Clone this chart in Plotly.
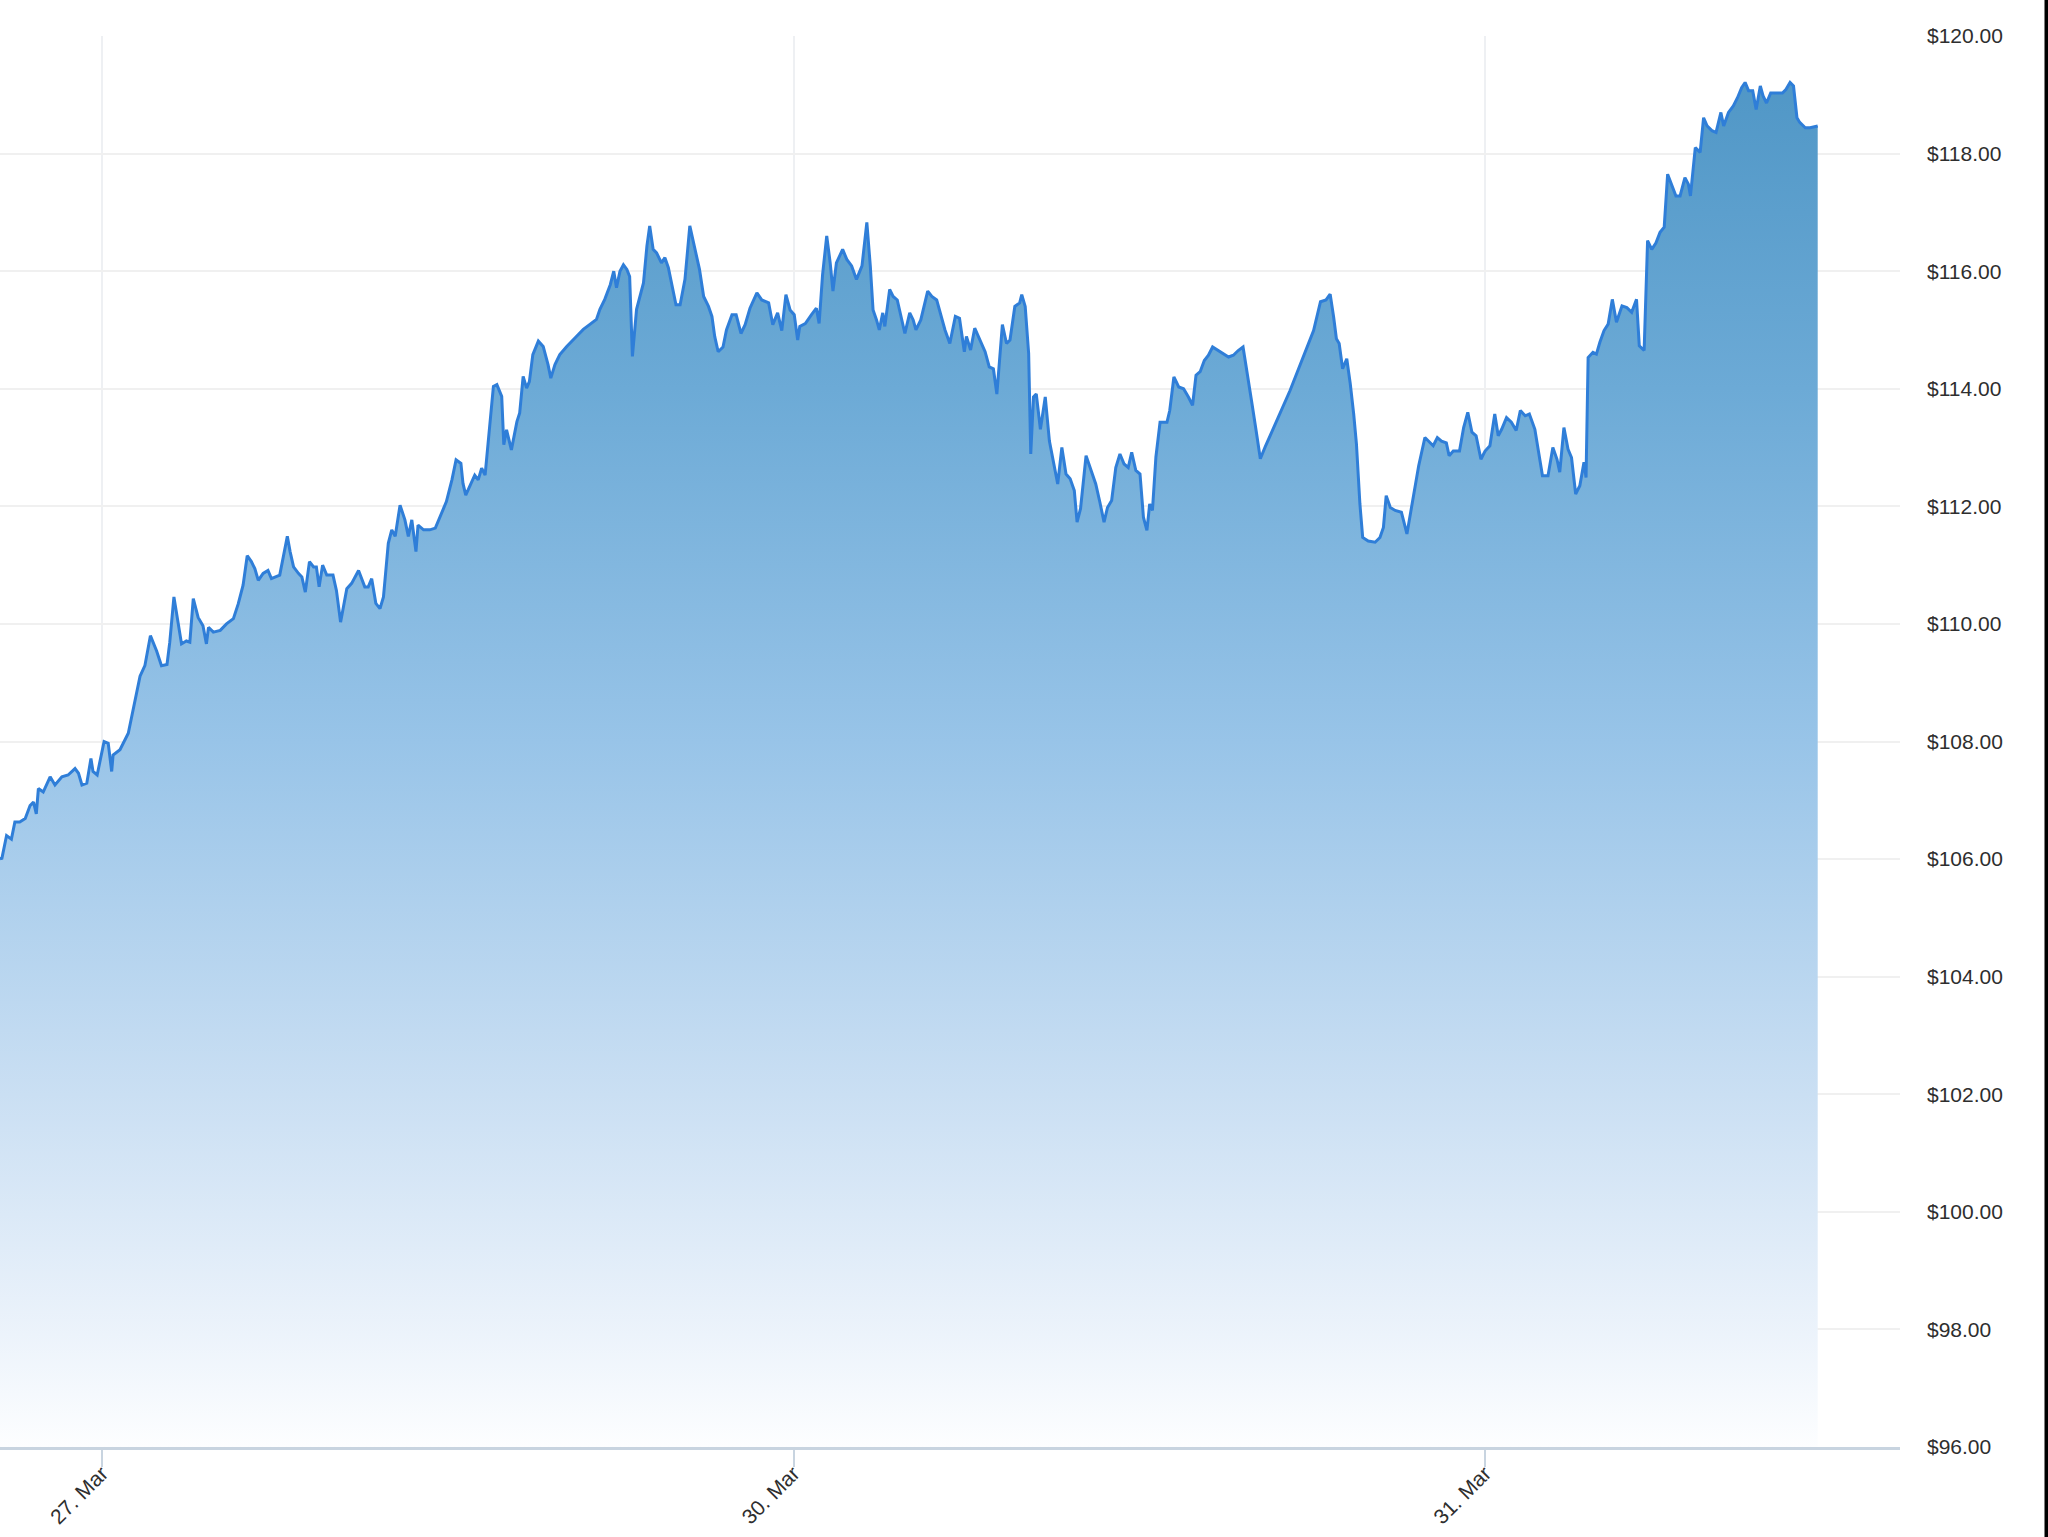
import plotly.graph_objects as go

# x = ordinal trading-day position (1.0 = "27. Mar" tick, 2.0 = "30. Mar", 3.0 = "31. Mar")
pos_a = [0.8525, 0.855, 0.862, 0.869, 0.874, 0.881, 0.889, 0.896, 0.901, 0.905,
         0.908, 0.915, 0.925, 0.932, 0.942, 0.951, 0.961, 0.966, 0.971, 0.978,
         0.984, 0.987, 0.993, 1.003, 1.009, 1.014, 1.016, 1.026, 1.038, 1.045,
         1.055, 1.062, 1.070, 1.079, 1.086, 1.094, 1.098, 1.104, 1.110, 1.115,
         1.122, 1.127, 1.132, 1.139, 1.146, 1.151, 1.154, 1.161, 1.171, 1.180,
         1.190, 1.197, 1.204, 1.210, 1.216, 1.221, 1.226, 1.233, 1.240, 1.245,
         1.257, 1.262, 1.268, 1.272, 1.277, 1.284, 1.289, 1.294, 1.300, 1.306,
         1.310, 1.314, 1.319, 1.325, 1.334, 1.339, 1.345, 1.354, 1.361]
price_a = [106.03, 106.0, 106.4, 106.34, 106.63, 106.63, 106.69, 106.91, 106.97, 106.77,
           107.2, 107.14, 107.4, 107.26, 107.4, 107.43, 107.54, 107.46, 107.26, 107.29,
           107.71, 107.49, 107.43, 108.0, 107.97, 107.49, 107.77, 107.86, 108.14, 108.54,
           109.11, 109.29, 109.8, 109.54, 109.29, 109.31, 109.69, 110.46, 110.03, 109.66,
           109.71, 109.69, 110.43, 110.11, 109.97, 109.66, 109.94, 109.86, 109.89, 110.0,
           110.09, 110.34, 110.66, 111.16, 111.06, 110.94, 110.74, 110.86, 110.91, 110.77,
           110.83, 111.14, 111.49, 111.23, 110.97, 110.86, 110.8, 110.54, 111.06, 110.97,
           110.97, 110.63, 111.0, 110.83, 110.83, 110.57, 110.03, 110.6, 110.69]

pos_b = [1.371, 1.380, 1.385, 1.390, 1.396, 1.402, 1.407, 1.414, 1.419, 1.424,
         1.431, 1.438, 1.443, 1.448, 1.454, 1.457, 1.465, 1.474, 1.482, 1.491,
         1.498, 1.506, 1.512, 1.519, 1.522, 1.526, 1.532, 1.539, 1.544, 1.549,
         1.554, 1.560, 1.566, 1.571, 1.578, 1.581, 1.585, 1.592, 1.600, 1.604,
         1.609, 1.614, 1.618, 1.623, 1.631, 1.638, 1.645, 1.649, 1.655, 1.662,
         1.672, 1.686, 1.696, 1.706, 1.715, 1.720, 1.727, 1.735, 1.740, 1.744,
         1.749, 1.754, 1.759, 1.763, 1.767, 1.773, 1.777, 1.783, 1.788, 1.792,
         1.797, 1.802, 1.809, 1.814, 1.819, 1.824, 1.830, 1.836, 1.843, 1.850,
         1.857, 1.864, 1.870]
price_b = [110.91, 110.63, 110.63, 110.77, 110.35, 110.26, 110.46, 111.37, 111.6, 111.49,
           112.02, 111.77, 111.49, 111.77, 111.23, 111.68, 111.6, 111.6, 111.63, 111.89,
           112.08, 112.45, 112.79, 112.73, 112.39, 112.19, 112.36, 112.53, 112.45, 112.65,
           112.53, 113.3, 114.04, 114.07, 113.87, 113.05, 113.3, 112.96, 113.44, 113.59,
           114.21, 114.01, 114.12, 114.58, 114.81, 114.72, 114.41, 114.18, 114.41, 114.58,
           114.72, 114.89, 115.01, 115.1, 115.18, 115.35, 115.52, 115.77, 116.0, 115.72,
           116.0, 116.11, 116.03, 115.91, 114.55, 115.35, 115.55, 115.8, 116.43, 116.77,
           116.37, 116.31, 116.14, 116.23, 116.06, 115.77, 115.43, 115.43, 115.86, 116.77,
           116.37, 116.03, 115.57]

pos_c = [1.877, 1.882, 1.886, 1.891, 1.898, 1.903, 1.911, 1.917, 1.924, 1.930,
         1.937, 1.947, 1.954, 1.964, 1.970, 1.977, 1.983, 1.989, 1.995, 2.001,
         2.006, 2.009, 2.017, 2.026, 2.033, 2.037, 2.042, 2.048, 2.053, 2.057,
         2.062, 2.071, 2.077, 2.084, 2.091, 2.099, 2.106, 2.111, 2.115, 2.120,
         2.124, 2.129, 2.132, 2.139, 2.144, 2.150, 2.156, 2.161, 2.168, 2.173,
         2.177, 2.184, 2.194, 2.200, 2.207, 2.213, 2.219, 2.226, 2.234, 2.240,
         2.247, 2.250, 2.256, 2.262, 2.270, 2.277, 2.283, 2.289, 2.294, 2.298,
         2.302, 2.308, 2.313, 2.320, 2.327, 2.330, 2.335, 2.340, 2.343, 2.347,
         2.351, 2.357, 2.364, 2.370, 2.376]
price_c = [115.4, 115.23, 114.89, 114.63, 114.71, 115.0, 115.26, 115.26, 114.94, 115.09,
           115.37, 115.63, 115.51, 115.46, 115.09, 115.29, 114.99, 115.6, 115.34, 115.26,
           114.83, 115.06, 115.11, 115.26, 115.37, 115.11, 115.94, 116.6, 116.14, 115.66,
           116.14, 116.37, 116.2, 116.09, 115.86, 116.09, 116.83, 116.09, 115.34, 115.17,
           115.0, 115.29, 115.06, 115.69, 115.57, 115.51, 115.17, 114.94, 115.29, 115.17,
           115.0, 115.17, 115.66, 115.57, 115.51, 115.23, 115.0, 114.77, 115.23, 115.2,
           114.63, 114.89, 114.66, 115.03, 114.83, 114.63, 114.37, 114.34, 113.91, 114.54,
           115.09, 114.77, 114.83, 115.4, 115.46, 115.6, 115.4, 114.6, 112.89, 113.86,
           113.91, 113.31, 113.86, 113.11, 112.77]

pos_d = [2.382, 2.388, 2.394, 2.400, 2.406, 2.410, 2.415, 2.423, 2.430, 2.437,
         2.443, 2.449, 2.454, 2.460, 2.466, 2.472, 2.478, 2.484, 2.489, 2.495,
         2.501, 2.506, 2.511, 2.515, 2.519, 2.524, 2.530, 2.540, 2.544, 2.550,
         2.557, 2.564, 2.571, 2.577, 2.582, 2.588, 2.594, 2.600, 2.606, 2.614,
         2.622, 2.629, 2.636, 2.643, 2.650, 2.655, 2.663, 2.669, 2.675, 2.682,
         2.718, 2.752, 2.762, 2.770, 2.776, 2.781, 2.785, 2.789, 2.794, 2.800,
         2.805, 2.810, 2.814, 2.819, 2.823, 2.831, 2.841, 2.848, 2.853, 2.857,
         2.863, 2.870, 2.879, 2.887, 2.891]
price_d = [112.38, 113.0, 112.55, 112.47, 112.27, 111.73, 111.96, 112.86, 112.61, 112.38,
           112.07, 111.73, 111.98, 112.1, 112.66, 112.89, 112.72, 112.66, 112.92, 112.61,
           112.55, 111.81, 111.59, 112.04, 111.93, 112.84, 113.43, 113.43, 113.63, 114.2,
           114.03, 114.0, 113.86, 113.72, 114.23, 114.29, 114.48, 114.57, 114.71, 114.65,
           114.6, 114.54, 114.57, 114.65, 114.71, 114.31, 113.74, 113.28, 112.81, 113.01,
           113.97, 114.99, 115.48, 115.51, 115.61, 115.22, 114.85, 114.77, 114.34, 114.51,
           114.09, 113.57, 113.06, 112.04, 111.47, 111.41, 111.39, 111.47, 111.64, 112.18,
           111.98, 111.93, 111.9, 111.53, 111.81]

pos_e = [2.896, 2.904, 2.913, 2.920, 2.925, 2.931, 2.937, 2.944, 2.948, 2.954,
         2.963, 2.969, 2.975, 2.981, 2.987, 2.994, 3.000, 3.007, 3.014, 3.019,
         3.024, 3.031, 3.038, 3.045, 3.051, 3.058, 3.064, 3.072, 3.077, 3.083,
         3.091, 3.098, 3.104, 3.108, 3.114, 3.120, 3.125, 3.131, 3.137, 3.143,
         3.146, 3.149, 3.156, 3.161, 3.166, 3.172, 3.178, 3.184, 3.190, 3.198,
         3.205, 3.212, 3.219, 3.223, 3.230, 3.235, 3.241, 3.247, 3.253, 3.259,
         3.264, 3.270, 3.276, 3.282, 3.289, 3.294, 3.297, 3.304, 3.311, 3.316,
         3.321, 3.328, 3.334, 3.341, 3.345, 3.352, 3.359, 3.365, 3.371, 3.376,
         3.381, 3.387, 3.392, 3.398, 3.402, 3.407, 3.413, 3.422, 3.430, 3.435,
         3.441, 3.446, 3.451, 3.455, 3.463, 3.470, 3.481]
price_e = [112.12, 112.69, 113.17, 113.08, 113.03, 113.17, 113.11, 113.08, 112.86, 112.94,
           112.94, 113.34, 113.6, 113.26, 113.2, 112.8, 112.94, 113.03, 113.57, 113.2,
           113.31, 113.51, 113.43, 113.29, 113.63, 113.54, 113.57, 113.31, 112.92, 112.52,
           112.52, 113.0, 112.8, 112.58, 113.34, 112.97, 112.83, 112.21, 112.35, 112.75,
           112.49, 114.53, 114.62, 114.59, 114.79, 114.99, 115.1, 115.52, 115.13, 115.41,
           115.38, 115.3, 115.52, 114.73, 114.65, 116.52, 116.37, 116.48, 116.66, 116.75,
           117.65, 117.45, 117.28, 117.28, 117.59, 117.48, 117.28, 118.1, 118.02, 118.61,
           118.47, 118.39, 118.36, 118.7, 118.47, 118.7, 118.81, 118.95, 119.12, 119.21,
           119.07, 119.07, 118.75, 119.15, 118.98, 118.86, 119.03, 119.03, 119.03, 119.09,
           119.21, 119.15, 118.61, 118.53, 118.44, 118.44, 118.47]

tick_pos = [1, 2, 3]
tick_labels = ["27. Mar", "30. Mar", "31. Mar"]

for a, b in [(pos_a, price_a), (pos_b, price_b), (pos_c, price_c), (pos_d, price_d), (pos_e, price_e)]:
    assert len(a) == len(b), (len(a), len(b))

x = pos_a + pos_b + pos_c + pos_d + pos_e
y = price_a + price_b + price_c + price_d + price_e

fig = go.Figure()
fig.add_trace(go.Scatter(
    x=x, y=y, mode="lines",
    line=dict(color="#2f7ed8", width=3),
    fill="tozeroy",
    fillgradient=dict(
        type="vertical", start=96, stop=120,
        colorscale=[
            [0.0, "rgb(253,254,255)"],
            [0.08, "rgb(236,243,251)"],
            [0.25, "rgb(202,223,243)"],
            [0.5, "rgb(152,196,232)"],
            [0.75, "rgb(108,170,214)"],
            [1.0, "rgb(76,148,196)"],
        ],
    ),
    hoverinfo="skip",
    showlegend=False,
))

fig.update_layout(
    width=2048, height=1537, autosize=False,
    margin=dict(l=0, r=148, t=36, b=90, pad=0),
    paper_bgcolor="white", plot_bgcolor="white",
    font=dict(family="Liberation Sans, Arial, sans-serif", size=21, color="#333333"),
    shapes=[dict(type="rect", xref="paper", yref="paper",
                 x0=2044.5 / 1900, x1=2048 / 1900, y0=-0.08, y1=1.04,
                 fillcolor="black", line=dict(width=0), layer="above")],
)
fig.update_xaxes(
    range=[0.8525, 3.600],
    tickmode="array", tickvals=tick_pos, ticktext=tick_labels,
    tickangle=-45,
    showgrid=True, gridcolor="#eef0f3", gridwidth=2,
    zeroline=False,
    showline=True, linecolor="#c8d4e0", linewidth=3,
    ticks="outside", ticklen=17, tickwidth=2, tickcolor="#c8d4e0",
    ticklabelstandoff=-14,
    tickfont=dict(size=21, color="#2e2e2e"),
)
fig.update_yaxes(
    range=[96, 120], side="right",
    tick0=96, dtick=2, tickprefix="$", tickformat=".2f",
    showgrid=True, gridcolor="#f0f0f0", gridwidth=2,
    zeroline=False, showline=False, ticks="",
    ticklabelstandoff=26,
    tickfont=dict(size=21, color="#2e2e2e"),
)

fig.write_html(
    "out.html",
    config={"displayModeBar": False},
    post_script="document.body.style.margin='0px';document.body.style.overflow='hidden';",
)
